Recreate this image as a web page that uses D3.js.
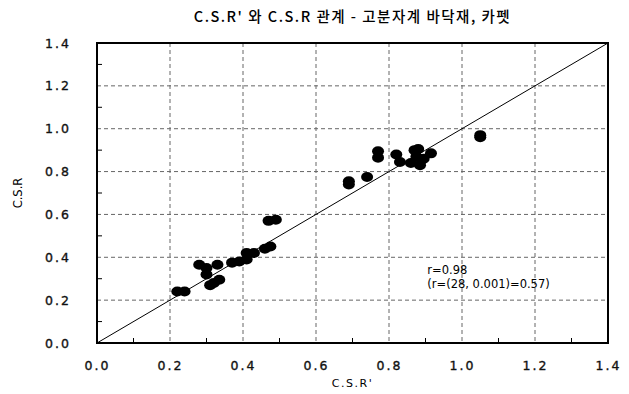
<!DOCTYPE html>
<html>
<head>
<meta charset="utf-8">
<script src="https://d3js.org/d3.v7.min.js"></script>
<style>
  body { margin: 0; background: #fff; }
  .tick-label { font-family: "DejaVu Sans", sans-serif; font-size: 12.5px; letter-spacing: 2px; fill: #111; stroke: #111; stroke-width: 0.35px; }
  .grid line { stroke: #666; stroke-width: 1; stroke-dasharray: 4,3; }
</style>
</head>
<body>
<svg width="629" height="394"></svg>
<script>
// C.S.R' (x) vs C.S.R (y)
var csrPrime = [0.22, 0.24, 0.28, 0.30, 0.30, 0.33, 0.32, 0.335, 0.31, 0.37, 0.39, 0.41, 0.41, 0.43, 0.46, 0.475,
                0.47, 0.49, 0.69, 0.69, 0.74, 0.77, 0.77, 0.82, 0.83, 0.87, 0.875, 0.86, 0.89, 0.915, 0.885, 0.88, 0.895, 1.05, 1.05];
var csr      = [0.24, 0.24, 0.365, 0.35, 0.32, 0.365, 0.28, 0.295, 0.27, 0.375, 0.38, 0.39, 0.42, 0.42, 0.44, 0.45,
                0.57, 0.575, 0.74, 0.755, 0.775, 0.865, 0.895, 0.88, 0.845, 0.90, 0.87, 0.84, 0.855, 0.885, 0.83, 0.905, 0.86, 0.96, 0.97];
var tickValues = [0, 0.2, 0.4, 0.6, 0.8, 1.0, 1.2, 1.4];
var minorTicks = [0.1, 0.3, 0.5, 0.7, 0.9, 1.1, 1.3];
var titleText = "C.S.R' 와 C.S.R 관계 - 고분자계 바닥재, 카펫";
var notes = ["r=0.98", "(r=(28, 0.001)=0.57)"];

var svg = d3.select("svg"),
    margin = {top: 43, right: 21, bottom: 51, left: 97},
    width = +svg.attr("width") - margin.left - margin.right,
    height = +svg.attr("height") - margin.top - margin.bottom,
    g = svg.append("g").attr("transform", "translate(" + margin.left + "," + margin.top + ")");

var x = d3.scaleLinear().domain([0, 1.4]).range([0, width]),
    y = d3.scaleLinear().domain([0, 1.4]).range([height, 0]);

// grid
g.append("g").attr("class", "grid")
  .selectAll("line.v").data(tickValues.slice(1, -1)).enter().append("line")
  .attr("x1", d => x(d)).attr("x2", d => x(d)).attr("y1", 0).attr("y2", height);
g.append("g").attr("class", "grid")
  .selectAll("line.h").data(tickValues.slice(1, -1)).enter().append("line")
  .attr("y1", d => y(d)).attr("y2", d => y(d)).attr("x1", 0).attr("x2", width);

// minor ticks (inside)
g.append("g").selectAll("line").data(minorTicks).enter().append("line")
  .attr("x1", 0).attr("x2", 5).attr("y1", d => y(d)).attr("y2", d => y(d))
  .attr("stroke", "#000");
g.append("g").selectAll("line").data(minorTicks).enter().append("line")
  .attr("y1", height).attr("y2", height - 5).attr("x1", d => x(d)).attr("x2", d => x(d))
  .attr("stroke", "#000");

// 1:1 line
g.append("line")
  .attr("x1", x(0)).attr("y1", y(0)).attr("x2", x(1.4)).attr("y2", y(1.4))
  .attr("stroke", "#000").attr("stroke-width", 1);

// points
g.selectAll(".pt").data(csrPrime).enter().append("ellipse")
  .attr("class", "pt")
  .attr("cx", d => x(d))
  .attr("cy", (d, i) => y(csr[i]))
  .attr("rx", 6).attr("ry", 5)
  .attr("fill", "#000");

// frame
g.append("rect").attr("width", width).attr("height", height)
  .attr("fill", "none").attr("stroke", "#000").attr("stroke-width", 2);

// axes labels
var xAxis = g.append("g").attr("transform", "translate(0," + height + ")")
  .call(d3.axisBottom(x).tickValues(tickValues).tickFormat(d3.format(".1f")).tickSize(0).tickPadding(18));
xAxis.select(".domain").remove();
xAxis.selectAll("text").attr("class", "tick-label").attr("fill", null);

var yAxis = g.append("g")
  .call(d3.axisLeft(y).tickValues(tickValues).tickFormat(d3.format(".1f")).tickSize(0).tickPadding(26));
yAxis.select(".domain").remove();
yAxis.selectAll("text").attr("class", "tick-label").attr("fill", null);

// title
svg.append("text")
  .attr("x", margin.left + width / 2).attr("y", 22)
  .attr("text-anchor", "middle")
  .style("font-family", "'Noto Sans CJK KR', sans-serif")
  .style("font-size", "14.5px")
  .style("font-weight", "500")
  .style("letter-spacing", "1.5px")
  .text(titleText);

svg.append("text")
  .attr("x", margin.left + width / 2).attr("y", 387)
  .attr("text-anchor", "middle")
  .style("font-family", "'DejaVu Sans', sans-serif")
  .style("font-size", "11px")
  .style("letter-spacing", "1.5px")
  .text("C.S.R'");

svg.append("text")
  .attr("transform", "translate(22," + (margin.top + height / 2) + ") rotate(-90)")
  .attr("text-anchor", "middle")
  .style("font-family", "'DejaVu Sans', sans-serif")
  .style("font-size", "11.5px")
  .text("C.S.R");

// annotation
g.append("g").selectAll("text").data(notes).enter().append("text")
  .attr("x", x(0.905))
  .attr("y", (d, i) => y(0.32) + i * 14)
  .style("font-family", "'DejaVu Sans', sans-serif")
  .style("font-size", "11.5px")
  .text(d => d);
</script>
</body>
</html>
